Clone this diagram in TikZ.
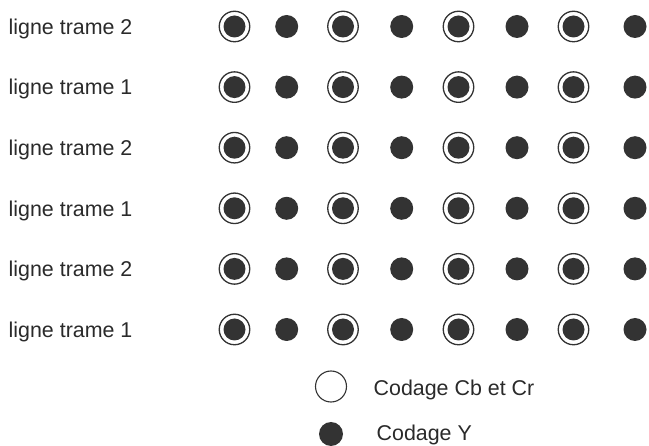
\documentclass[tikz,border=0pt]{standalone}
\usepackage{fontspec}
\setmainfont{Liberation Sans}
\definecolor{ink}{HTML}{333333}
\definecolor{txt}{HTML}{2A2A2A}
\begin{document}
\begin{tikzpicture}[x=1pt,y=-1pt,
  lab/.style={anchor=base west,inner sep=0pt,text=txt,font=\fontsize{21.4}{25}\selectfont},
  ring/.style={circle,draw=ink,line width=1.3pt,minimum size=30.5pt,inner sep=0pt},
  ydot/.style={circle,fill=ink,minimum size=23pt,inner sep=0pt},
  cdot/.style={circle,fill=ink,minimum size=22pt,inner sep=0pt}]
\useasboundingbox (0,0) rectangle (649,446);
\foreach \r/\t in {1/2,2/1,3/2,4/1,5/2,6/1}{
  \pgfmathsetmacro{\yy}{26.5+60.6*(\r-1)}
  \node[lab] (l\r) at (8.5,\yy+7.8) {ligne trame \t};
  \foreach \c/\x in {1/234.5,2/343,3/458.5,4/573.5}{
    \node[ring] (r\r\c) at (\x,\yy) {};
    \node[cdot] (c\r\c) at (\x,\yy) {};
  }
  \foreach \c/\x in {1/286.7,2/401.7,3/517,4/635}{
    \node[ydot] (y\r\c) at (\x,\yy) {};
  }
}
\node[circle,draw=ink,line width=1.1pt,minimum size=31pt,inner sep=0pt] (lc) at (331,386.5) {};
\node[lab] (lct) at (373.5,395.5) {Codage Cb et Cr};
\node[ydot,minimum size=24pt] (ly) at (331,434) {};
\node[lab] (lyt) at (376.5,441) {Codage Y};
\end{tikzpicture}
\end{document}
